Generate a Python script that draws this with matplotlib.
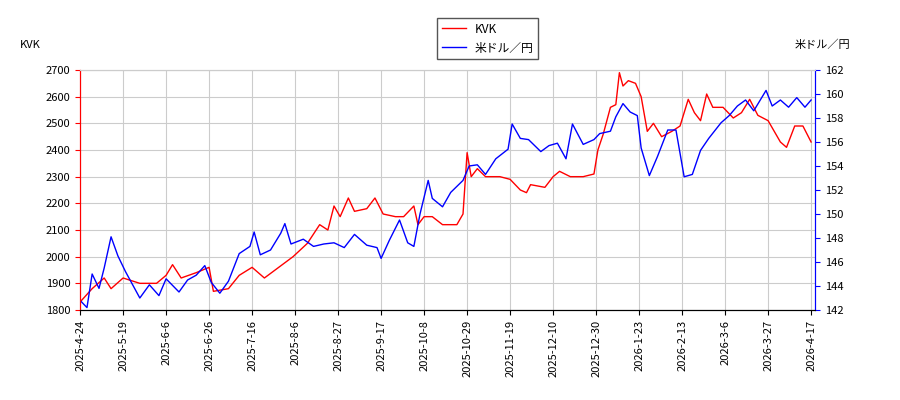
import matplotlib
matplotlib.use("Agg")
import matplotlib.pyplot as plt
import numpy as np
import pandas as pd

plt.rcParams['font.family'] = ['Noto Sans CJK JP', 'DejaVu Sans']

kvk_dates = ["2025-04-24","2025-05-01","2025-05-08","2025-05-12","2025-05-19","2025-05-26","2025-06-02","2025-06-06","2025-06-09","2025-06-13","2025-06-20","2025-06-26","2025-06-28","2025-07-05","2025-07-10","2025-07-16","2025-07-22","2025-07-29","2025-08-05","2025-08-12","2025-08-18","2025-08-22","2025-08-25","2025-08-28","2025-09-01","2025-09-04","2025-09-10","2025-09-14","2025-09-18","2025-09-24","2025-09-28","2025-10-03","2025-10-05","2025-10-08","2025-10-12","2025-10-17","2025-10-24","2025-10-27","2025-10-29","2025-10-31","2025-11-03","2025-11-07","2025-11-14","2025-11-19","2025-11-24","2025-11-27","2025-11-29","2025-12-06","2025-12-10","2025-12-13","2025-12-18","2025-12-24","2025-12-29","2025-12-31","2026-01-03","2026-01-07","2026-01-10","2026-01-12","2026-01-14","2026-01-17","2026-01-21","2026-01-24","2026-01-27","2026-01-30","2026-02-03","2026-02-08","2026-02-12","2026-02-16","2026-02-19","2026-02-22","2026-02-25","2026-02-28","2026-03-05","2026-03-10","2026-03-14","2026-03-18","2026-03-22","2026-03-27","2026-03-30","2026-04-02","2026-04-05","2026-04-09","2026-04-13","2026-04-17"]
kvk_values = [1830,1880,1920,1880,1920,1900,1900,1930,1970,1920,1940,1960,1870,1880,1930,1960,1920,1960,2000,2050,2120,2100,2190,2150,2220,2170,2180,2220,2160,2150,2150,2190,2120,2150,2150,2120,2120,2160,2390,2300,2330,2300,2300,2290,2250,2240,2270,2260,2300,2320,2300,2300,2310,2400,2460,2560,2570,2690,2640,2660,2650,2600,2470,2500,2450,2470,2490,2590,2540,2510,2610,2560,2560,2520,2540,2590,2530,2510,2470,2430,2410,2490,2490,2430]

usd_dates = ["2025-04-24","2025-04-28","2025-05-01","2025-05-05","2025-05-08","2025-05-12","2025-05-16","2025-05-20","2025-05-26","2025-05-30","2025-06-03","2025-06-06","2025-06-12","2025-06-16","2025-06-20","2025-06-24","2025-06-27","2025-07-01","2025-07-05","2025-07-10","2025-07-15","2025-07-17","2025-07-20","2025-07-25","2025-07-30","2025-08-01","2025-08-04","2025-08-10","2025-08-15","2025-08-20","2025-08-25","2025-08-30","2025-09-04","2025-09-10","2025-09-15","2025-09-17","2025-09-21","2025-09-26","2025-09-30","2025-10-03","2025-10-06","2025-10-10","2025-10-12","2025-10-17","2025-10-21","2025-10-27","2025-10-30","2025-11-03","2025-11-07","2025-11-12","2025-11-18","2025-11-20","2025-11-24","2025-11-28","2025-12-04","2025-12-08","2025-12-12","2025-12-16","2025-12-19","2025-12-24","2025-12-29","2026-01-01","2026-01-07","2026-01-10","2026-01-14","2026-01-18","2026-01-22","2026-01-24","2026-01-28","2026-02-01","2026-02-06","2026-02-10","2026-02-14","2026-02-18","2026-02-22","2026-02-26","2026-03-04","2026-03-08","2026-03-12","2026-03-16","2026-03-20","2026-03-26","2026-03-29","2026-04-02","2026-04-06","2026-04-10","2026-04-14","2026-04-17"]
usd_values = [142.8,142.2,145.0,143.8,145.5,148.1,146.5,145.2,143.0,144.1,143.2,144.6,143.5,144.5,144.9,145.7,144.3,143.4,144.4,146.7,147.3,148.5,146.6,147.0,148.4,149.2,147.5,147.9,147.3,147.5,147.6,147.2,148.3,147.4,147.2,146.3,147.8,149.5,147.6,147.3,150.0,152.8,151.3,150.6,151.8,152.8,154.0,154.1,153.3,154.6,155.4,157.5,156.3,156.2,155.2,155.7,155.9,154.6,157.5,155.8,156.2,156.7,156.9,158.1,159.2,158.5,158.2,155.5,153.2,154.8,157.0,157.0,153.1,153.3,155.3,156.3,157.6,158.2,159.0,159.5,158.6,160.3,159.0,159.5,158.9,159.7,158.9,159.5]

tick_labels = ["2025-4-24","2025-5-19","2025-6-6","2025-6-26","2025-7-16","2025-8-6","2025-8-27","2025-9-17","2025-10-8","2025-10-29","2025-11-19","2025-12-10","2025-12-30","2026-1-23","2026-2-13","2026-3-6","2026-3-27","2026-4-17"]

# trading-day axis: ticks equally spaced, dates mapped piecewise-linearly
tick_ts = pd.to_datetime(tick_labels).values.astype('int64')
def pos(dates):
    d = pd.to_datetime(dates).values.astype('int64')
    return np.interp(d, tick_ts, np.arange(len(tick_labels)))

fig = plt.figure(figsize=(9, 4), dpi=100)
ax = fig.add_axes([0.089, 0.225, 0.817, 0.6])
ax2 = ax.twinx()
l1, = ax.plot(pos(kvk_dates), kvk_values, color='red', lw=1, label='KVK')
l2, = ax2.plot(pos(usd_dates), usd_values, color='blue', lw=1, label='米ドル／円')
ax.set_xlim(0, len(tick_labels) - 1 + 0.1)
ax.set_ylim(1800, 2700)
ax2.set_ylim(142, 162)
ax.set_yticks(range(1800, 2701, 100))
ax2.set_yticks(range(142, 163, 2))
ax.set_xticks(range(len(tick_labels)))
ax.set_xticklabels(tick_labels, rotation=90)
ax.tick_params(labelsize=8)
ax2.tick_params(labelsize=8)
ax.grid(color='#cccccc')
for a in (ax, ax2):
    a.spines['left'].set_color('red')
    a.spines['right'].set_color('blue')
    a.spines['top'].set_color('#cccccc')
ax.tick_params(axis='y', colors='red', labelcolor='black')
ax2.tick_params(axis='y', colors='blue', labelcolor='black')
fig.text(0.022, 0.88, 'KVK', fontsize=8)
fig.text(0.945, 0.88, '米ドル／円', fontsize=8, ha='right')
fig.legend(handles=[l1, l2], loc='upper center', bbox_to_anchor=(0.542, 0.97), fontsize=8.5,
           fancybox=False, edgecolor='#555555', framealpha=1)
fig.savefig('out.png')
